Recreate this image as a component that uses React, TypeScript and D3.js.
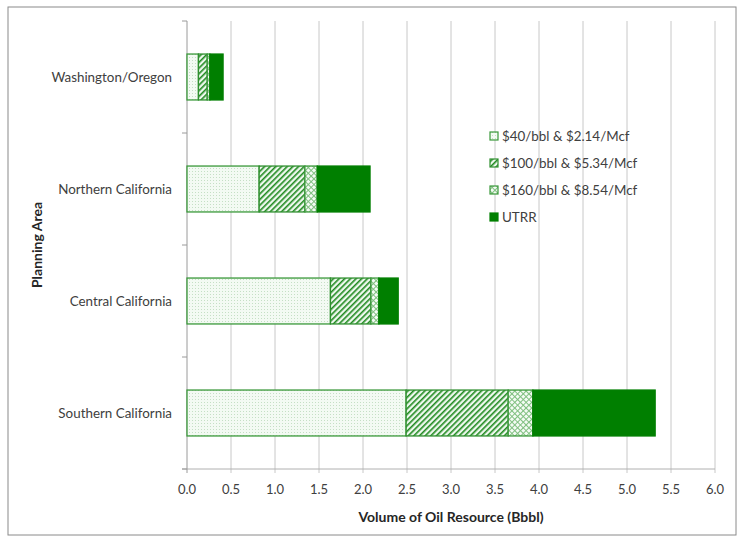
import React from "react";
import * as d3 from "d3";

const categories = ["Washington/Oregon", "Northern California", "Central California", "Southern California"];
const seriesNames = ["$40/bbl & $2.14/Mcf", "$100/bbl & $5.34/Mcf", "$160/bbl & $8.54/Mcf", "UTRR"];
// incremental volumes (Bbbl)
const tier40 = [0.13, 0.82, 1.63, 2.49];
const tier100 = [0.10, 0.52, 0.46, 1.16];
const tier160 = [0.03, 0.14, 0.09, 0.28];
const utrr = [0.15, 0.60, 0.22, 1.39];
const xTicks = [0, 0.5, 1, 1.5, 2, 2.5, 3, 3.5, 4, 4.5, 5, 5.5, 6];

const W = 741, H = 537;
const M = { left: 187, right: 26, top: 21, bottom: 68 };
const FONT = "Lato, 'Open Sans', sans-serif";

export default function App() {
  const x = d3.scaleLinear().domain([0, 6]).range([M.left, W - M.right]);
  const y = d3.scaleBand().domain(categories).range([M.top, H - M.bottom]).paddingInner(0.59).paddingOuter(0.295);
  const rows = categories.map((c, i) => ({ cat: c, s0: tier40[i], s1: tier100[i], s2: tier160[i], s3: utrr[i] }));
  const stack = d3.stack<any>().keys(["s0", "s1", "s2", "s3"]);
  const layers = stack(rows);
  const fills = ["url(#p40)", "url(#p100)", "url(#p160)", "#007f00"];
  const strokes = ["#3a983a", "#2f8f2f", "#3a983a", "#007f00"];
  const y0 = M.top, y1 = H - M.bottom;
  const bandOuter = (y1 - y0) / categories.length;
  const boundaries = d3.range(categories.length + 1).map(i => y0 + i * bandOuter);
  const legendY = [136, 163, 190, 217];
  return (
    <svg width={W} height={H} style={{ position: "absolute", left: 0, top: 0, background: "#fff" }}>
      <defs>
        <pattern id="p40" patternUnits="userSpaceOnUse" width="3" height="3">
          <rect width="3" height="3" fill="#f3faf3" />
          <rect x="0" y="0" width="1" height="1" fill="#c5dfc5" />
        </pattern>
        <pattern id="p100" patternUnits="userSpaceOnUse" width="4" height="4" patternTransform="rotate(45)">
          <rect width="4" height="4" fill="#eef8ee" />
          <rect x="0" y="0" width="1.6" height="4" fill="#1f8a1f" />
        </pattern>
        <pattern id="p160" patternUnits="userSpaceOnUse" width="4" height="4" patternTransform="rotate(45)">
          <rect width="4" height="4" fill="#f4fbf4" />
          <rect x="0" y="0" width="1" height="4" fill="#7fbf7f" />
          <rect x="0" y="0" width="4" height="1" fill="#7fbf7f" />
        </pattern>
      </defs>
      <rect x={8} y={7} width={728} height={528} fill="#fff" stroke="#8a8a8a" strokeWidth={1} />
      {/* gridlines */}
      {xTicks.filter(t => t > 0).map(t => (
        <line key={t} x1={x(t)} x2={x(t)} y1={y0} y2={y1 + 4} stroke="#c8c8c8" strokeWidth={1} />
      ))}
      {/* x axis */}
      <line x1={M.left - 5} x2={x(6)} y1={y1} y2={y1} stroke="#b0b0b0" />
      {/* y axis */}
      <line x1={M.left} x2={M.left} y1={y0} y2={y1 + 4} stroke="#9a9a9a" />
      {boundaries.map((b, i) => (
        <line key={i} x1={M.left - 5} x2={M.left} y1={b} y2={b} stroke="#9a9a9a" />
      ))}
      {xTicks.map(t => (
        <text key={t} x={x(t)} y={y1 + 25} textAnchor="middle" fontFamily={FONT} fontSize={13} fill="#404040">
          {t.toFixed(1)}
        </text>
      ))}
      {categories.map(c => (
        <text key={c} x={M.left - 15} y={(y(c) as number) + y.bandwidth() / 2 + 4.5} textAnchor="end" fontFamily={FONT} fontSize={13.4} fill="#404040">
          {c}
        </text>
      ))}
      {/* bars */}
      {layers.map((layer, li) => (
        <g key={li}>
          {layer.map((d, i) => (
            <rect key={i} x={x(d[0])} y={y(categories[i])} width={x(d[1]) - x(d[0])} height={y.bandwidth()}
              fill={fills[li]} stroke={strokes[li]} strokeWidth={1.3} />
          ))}
        </g>
      ))}
      {/* legend */}
      {seriesNames.map((s, i) => (
        <g key={s}>
          <rect x={490} y={legendY[i] - 4} width={8} height={8} fill={fills[i]} stroke={strokes[i]} strokeWidth={1.2} />
          <text x={502} y={legendY[i] + 4.5} fontFamily={FONT} fontSize={13.4} fill="#404040">{s}</text>
        </g>
      ))}
      <text x={(x(0) + x(6)) / 2} y={522} textAnchor="middle" fontFamily={FONT} fontWeight="bold" fontSize={14} fill="#262626">
        Volume of Oil Resource (Bbbl)
      </text>
      <text transform={`translate(42,${(y0 + y1) / 2}) rotate(-90)`} textAnchor="middle" fontFamily={FONT} fontWeight="bold" fontSize={14} fill="#262626">
        Planning Area
      </text>
    </svg>
  );
}
